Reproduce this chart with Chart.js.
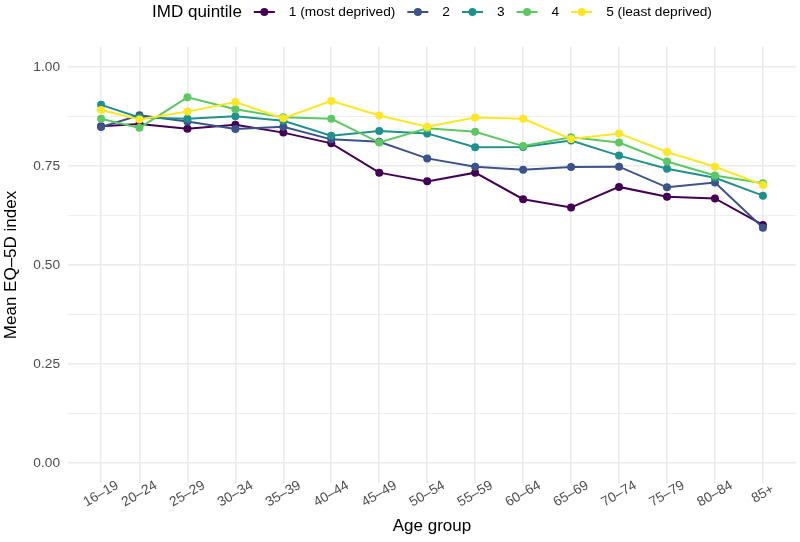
<!DOCTYPE html>
<html>
<head>
<meta charset="utf-8">
<script src="https://cdn.jsdelivr.net/npm/chart.js@4.4.1/dist/chart.umd.min.js"></script>
<style>
  html, body { margin: 0; padding: 0; background: #fff; }
  #wrap { width: 800px; height: 542px; }
</style>
</head>
<body>
<div id="wrap"><canvas id="chart" width="800" height="542"></canvas></div>
<script>
// age groups: x is placed at the lower bound of each band
const ageLabels = ['16–19', '20–24', '25–29', '30–34', '35–39', '40–44', '45–49', '50–54',
                   '55–59', '60–64', '65–69', '70–74', '75–79', '80–84', '85+'];
const ageStart = [16, 20, 25, 30, 35, 40, 45, 50, 55, 60, 65, 70, 75, 80, 85];

const quintileNames = ['1 (most deprived)', '2', '3', '4', '5 (least deprived)'];
const quintileColors = ['#440154', '#3B528B', '#21908C', '#5DC863', '#FDE725'];

const q1 = [0.850, 0.856, 0.844, 0.854, 0.834, 0.807, 0.733, 0.711, 0.733, 0.666, 0.645, 0.697, 0.672, 0.668, 0.601];
const q2 = [0.848, 0.878, 0.862, 0.843, 0.849, 0.817, 0.811, 0.769, 0.748, 0.740, 0.747, 0.748, 0.696, 0.708, 0.594];
const q3 = [0.904, 0.872, 0.869, 0.875, 0.864, 0.826, 0.838, 0.832, 0.797, 0.798, 0.814, 0.776, 0.743, 0.720, 0.675];
const q4 = [0.869, 0.846, 0.923, 0.893, 0.873, 0.869, 0.809, 0.845, 0.836, 0.800, 0.822, 0.809, 0.761, 0.726, 0.706];
const q5 = [0.891, 0.867, 0.887, 0.911, 0.870, 0.914, 0.877, 0.849, 0.872, 0.869, 0.818, 0.832, 0.785, 0.748, 0.702];

const yMajor = [0, 0.25, 0.5, 0.75, 1];
const yMinor = [0.125, 0.375, 0.625, 0.875];

const FONT = '"Liberation Sans", Arial, Helvetica, sans-serif';
const GRID = '#EBEBEB';
const LINE_W = 2;
const POINT_R = 4;

const series = [q1, q2, q3, q4, q5];
const datasets = series.map((vals, i) => ({
    label: quintileNames[i],
    data: vals.map((v, j) => ({ x: ageStart[j], y: v })),
    borderColor: quintileColors[i],
    backgroundColor: quintileColors[i],
    borderWidth: LINE_W,
    pointRadius: POINT_R,
    pointHoverRadius: POINT_R,
    pointBorderWidth: 0,
    tension: 0,
    order: 4 - i
}));

// legend at the top, ggplot style, centred on the panel
const topLegend = {
    id: 'topLegend',
    afterDraw(chart) {
        const ctx = chart.ctx;
        const area = chart.chartArea;
        const cy = 12;
        ctx.save();
        ctx.textBaseline = 'middle';
        ctx.font = '17px ' + FONT;
        const titleW = ctx.measureText('IMD quintile').width;
        ctx.font = '13.7px ' + FONT;
        const labelW = quintileNames.map(n => ctx.measureText(n).width);
        const keyW = 21, afterTitle = 12, afterKey = 14, afterLabel = 12;
        let total = titleW + afterTitle;
        labelW.forEach((w, i) => { total += keyW + afterKey + w + (i < 4 ? afterLabel : 0); });
        let x = (area.left + area.right) / 2 - total / 2;

        ctx.fillStyle = '#000';
        ctx.font = '17px ' + FONT;
        ctx.textAlign = 'left';
        ctx.fillText('IMD quintile', x, cy);
        x += titleW + afterTitle;

        ctx.font = '13.7px ' + FONT;
        quintileNames.forEach((name, i) => {
            ctx.strokeStyle = quintileColors[i];
            ctx.lineWidth = LINE_W;
            ctx.beginPath();
            ctx.moveTo(x, cy);
            ctx.lineTo(x + keyW, cy);
            ctx.stroke();
            ctx.fillStyle = quintileColors[i];
            ctx.beginPath();
            ctx.arc(x + keyW / 2, cy, POINT_R, 0, Math.PI * 2);
            ctx.fill();
            x += keyW + afterKey;
            ctx.fillStyle = '#000';
            ctx.fillText(name, x, cy);
            x += labelW[i] + afterLabel;
        });
        ctx.restore();
    }
};

// rotated x tick labels centred on their ticks
const xTickLabels = {
    id: 'xTickLabels',
    afterDraw(chart) {
        const ctx = chart.ctx;
        const xs = chart.scales.x;
        ctx.save();
        ctx.font = '13.7px ' + FONT;
        ctx.fillStyle = '#4D4D4D';
        ctx.textAlign = 'center';
        ctx.textBaseline = 'middle';
        ageStart.forEach((a, i) => {
            const px = xs.getPixelForValue(a);
            ctx.save();
            ctx.translate(px, 494);
            ctx.rotate(-Math.PI / 6);
            ctx.fillText(ageLabels[i], 0, 0);
            ctx.restore();
        });
        ctx.restore();
    }
};

new Chart(document.getElementById('chart'), {
    type: 'line',
    data: { datasets },
    options: {
        responsive: false,
        animation: false,
        events: [],
        layout: { padding: { top: 47, right: 3, bottom: 0, left: 0 } },
        plugins: {
            legend: { display: false },
            tooltip: { enabled: false }
        },
        scales: {
            x: {
                type: 'linear',
                min: 12.55,
                max: 88.45,
                afterBuildTicks: (scale) => { scale.ticks = ageStart.map(v => ({ value: v })); },
                afterFit: (scale) => { scale.height = 59; },
                ticks: { display: false },
                grid: { color: GRID, lineWidth: 1.6, drawTicks: false },
                border: { display: false },
                title: {
                    display: true,
                    text: 'Age group',
                    color: '#000',
                    font: { family: FONT, size: 17 },
                    padding: { top: 0, bottom: 5 }
                }
            },
            y: {
                min: -0.05,
                max: 1.05,
                afterBuildTicks: (scale) => {
                    scale.ticks = yMajor.concat(yMinor).sort((a, b) => a - b).map(v => ({ value: v }));
                },
                afterFit: (scale) => { scale.width = 68; },
                ticks: {
                    color: '#4D4D4D',
                    font: { family: FONT, size: 13.7 },
                    padding: 8,
                    callback: (v) => yMajor.includes(v) ? v.toFixed(2) : ''
                },
                grid: {
                    drawTicks: false,
                    color: GRID,
                    lineWidth: (c) => yMajor.includes(c.tick.value) ? 1.6 : 0.8
                },
                border: { display: false },
                title: {
                    display: true,
                    text: 'Mean EQ–5D index',
                    color: '#000',
                    font: { family: FONT, size: 17 },
                    padding: { top: 1, bottom: 0 }
                }
            }
        }
    },
    plugins: [topLegend, xTickLabels]
});
</script>
</body>
</html>
